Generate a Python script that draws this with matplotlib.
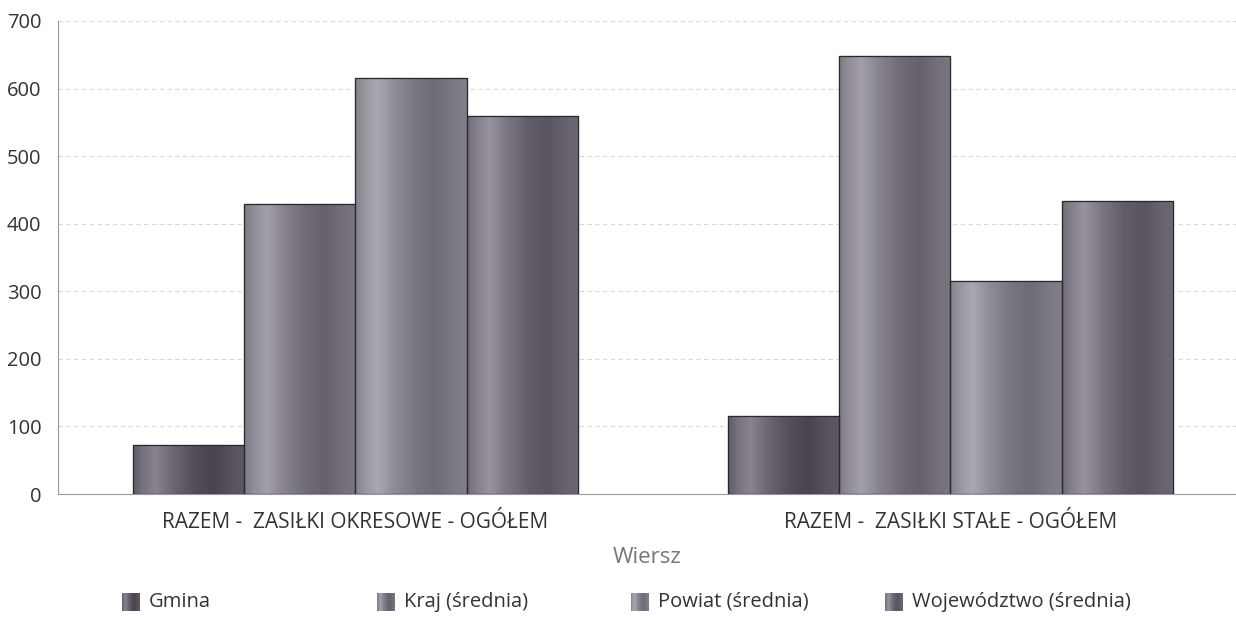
import numpy as np
import matplotlib
matplotlib.use("Agg")
import matplotlib.pyplot as plt
from matplotlib.colors import LinearSegmentedColormap
from matplotlib.patches import Rectangle

categories = ["RAZEM -  ZASIŁKI OKRESOWE - OGÓŁEM", "RAZEM -  ZASIŁKI STAŁE - OGÓŁEM"]
series_names = ["Gmina", "Kraj (średnia)", "Powiat (średnia)", "Województwo (średnia)"]
gmina = [73, 115]
kraj = [429, 648]
powiat = [616, 315]
wojewodztwo = [560, 433]
series_values = [gmina, kraj, powiat, wojewodztwo]
yticks = [0, 100, 200, 300, 400, 500, 600, 700]
x_title = "Wiersz"

# (dark, light) per series
series_colors = [("#3b3440", "#8f8a96"),
                 ("#57525e", "#aaa6b0"),
                 ("#615d69", "#b0adb6"),
                 ("#4a4451", "#9e99a4")]

plt.rcParams['font.family'] = ['Open Sans', 'DejaVu Sans']

W, H = 1236, 617
fig = plt.figure(figsize=(W / 100, H / 100), dpi=100)
left, right, top, bottom = 58, 1236, 21, 494
ax = fig.add_axes([left / W, (H - bottom) / H, (right - left) / W, (bottom - top) / H])

x = np.arange(len(categories))
bw = 0.1867
offsets = (np.arange(len(series_names)) - 1.5) * bw

# horizontal shading profile (cylinder-like)
prof_t = np.array([0.0, 0.08, 0.2, 0.35, 0.55, 0.72, 0.88, 1.0])
prof_v = np.array([0.45, 0.7, 0.92, 0.6, 0.3, 0.18, 0.35, 0.42])
tt = np.linspace(0, 1, 200)
shade = np.interp(tt, prof_t, prof_v)[None, :]

for i, (name, vals) in enumerate(zip(series_names, series_values)):
    dark, light = series_colors[i]
    cmap = LinearSegmentedColormap.from_list(f"c{i}", [dark, light])
    bars = ax.bar(x + offsets[i], vals, width=bw, color=dark,
                  edgecolor="#2a2a2a", linewidth=0.8, zorder=3, label=name)
    for b in bars:
        x0, w, h = b.get_x(), b.get_width(), b.get_height()
        im = ax.imshow(shade, cmap=cmap, vmin=0, vmax=1, aspect="auto",
                       extent=[x0, x0 + w, 0, h], zorder=3.5, interpolation="bilinear")
        im.set_clip_path(b)
        ax.add_patch(Rectangle((x0, 0), w, h, fill=False, edgecolor="#2a2a2a",
                               linewidth=0.9, zorder=4))

ax.set_xlim(-0.5, 1.48)
ax.set_ylim(0, 700)
ax.set_yticks(yticks)
ax.set_yticklabels([str(v) for v in yticks], fontsize=14.5, color="#333333")
ax.set_xticks(x)
ax.set_xticklabels(categories, fontsize=15, color="#333333")
ax.tick_params(axis="both", length=0)
ax.tick_params(axis="y", pad=12)
ax.tick_params(axis="x", pad=13)
ax.grid(axis="y", color="#d8d8d8", linestyle=(0, (4, 3)), linewidth=0.8, zorder=0)
for s in ["top", "right"]:
    ax.spines[s].set_visible(False)
ax.spines["left"].set_color("#999999")
ax.spines["left"].set_linewidth(0.8)
ax.spines["bottom"].set_color("#999999")
ax.spines["bottom"].set_linewidth(0.8)
ax.set_axisbelow(True)

ax.set_xlabel(x_title, fontsize=16, color="#777777", labelpad=10)

# legend row
leg_x = [122, 377, 631, 885]
leg_y = 602
sq = 18
for i, name in enumerate(series_names):
    dark, light = series_colors[i]
    cmap = LinearSegmentedColormap.from_list(f"l{i}", [dark, light])
    lax = fig.add_axes([leg_x[i] / W, (H - leg_y - sq / 2) / H, sq / W, sq / H])
    lax.imshow(shade, cmap=cmap, vmin=0, vmax=1, aspect="auto", interpolation="bilinear")
    lax.set_axis_off()
    fig.text((leg_x[i] + sq + 9) / W, (H - leg_y) / H, name, fontsize=14.5,
             color="#333333", va="center", ha="left")

fig.savefig("out.png", dpi=100)
